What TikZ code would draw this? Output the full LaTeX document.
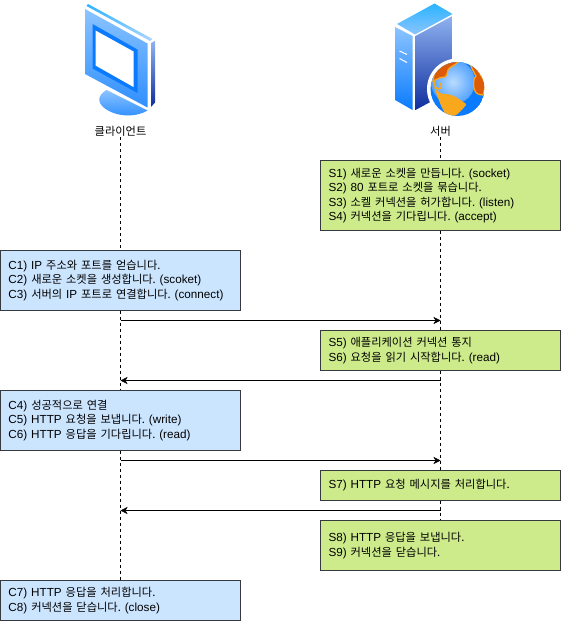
\documentclass[tikz,border=0pt]{standalone}
\usepackage{fontspec}
\setmainfont{Liberation Sans}
\newfontfamily\krfont[Scale=0.96]{Noto Sans CJK KR}
\newcommand{\ko}[1]{{\krfont #1}}
\usetikzlibrary{arrows.meta}
\definecolor{clientfill}{HTML}{CCE5FF}
\definecolor{serverfill}{HTML}{CDEB8B}
\definecolor{boxline}{HTML}{36393D}
\definecolor{iconlight}{HTML}{8CC4FF}
\definecolor{iconblue}{HTML}{0A7BFF}
\definecolor{icondark}{HTML}{0F2E9E}
\definecolor{sideblue}{HTML}{8FB2F0}
\definecolor{topblue}{HTML}{2AB4FF}
\definecolor{landorange}{HTML}{F9A81E}
\definecolor{landdark}{HTML}{DD5B06}
\begin{document}
\begin{tikzpicture}[x=1bp,y=-1bp]
  \tikzstyle{note}=[draw=boxline,rectangle,minimum width=240bp,text width=224bp,inner xsep=8bp,inner ysep=0pt,align=left,font=\fontsize{11.7bp}{14.5bp}\selectfont\frenchspacing]
  \tikzstyle{clientnote}=[note,fill=clientfill]
  \tikzstyle{servernote}=[note,fill=serverfill]
  \tikzstyle{label}=[font=\fontsize{11.7bp}{13bp}\selectfont,inner sep=0pt]
  \tikzstyle{lifeline}=[dash pattern=on 3bp off 3bp,black]
  \tikzstyle{message}=[-{Stealth[length=7bp,width=7bp,inset=2bp]},black]
  \useasboundingbox (0,0) rectangle (561,621);
  % monitor
  \shade[top color=iconlight,bottom color=iconblue!85!white] (85,9) -- (147.5,43.5) -- (147.5,107.5) -- (85,74) -- cycle;
  \fill[iconblue] (92.5,24) -- (137.5,49.5) -- (137.5,93) -- (92.5,68.5) -- cycle;
  \fill[white] (95.5,30.5) -- (133.5,51.5) -- (133.5,87) -- (95.5,65.5) -- cycle;
  \shade[top color=topblue,bottom color=iconlight!70!white] (88,4) -- (152.5,39) -- (150,41) -- (86.5,6) -- cycle;
  \shade[top color=sideblue,bottom color=icondark] (151,43) -- (155,41) -- (155,102.5) -- (151,107) -- cycle;
  \shade[top color=iconlight,bottom color=iconblue!85!white] (106.5,90) -- (147.5,110.5) .. controls (137,117) and (120,117) .. (109,111) .. controls (97,105) and (96,96) .. (106.5,90) -- cycle;
  % server
  \shade[top color=topblue,bottom color=iconlight] (434.5,3.5) -- (452.5,14) -- (415,34.5) -- (397,24) -- cycle;
  \shade[top color=iconlight,bottom color=iconblue] (395,27) -- (412.5,36) -- (412.5,110) -- (395,100) -- cycle;
  \shade[top color=sideblue,bottom color=icondark] (415.5,36) -- (452.5,16) -- (452.5,90) -- (415.5,110) -- cycle;
  \draw[white,line width=1bp] (399.5,51) -- (407,54.5) (399.5,58.5) -- (407,62.5);
  % globe
  \fill[white] (457.5,89) circle (30.5bp);
  \begin{scope}
    \clip (457.5,89) circle (27bp);
    \fill[iconblue] (457.5,89) circle (27bp);
    \shade[inner color=iconlight!60!white,outer color=iconblue!70!white] (453,82) circle (22bp);
    % top left land
    \fill[landdark,draw=landorange,line width=1.2bp] (433,81) .. controls (434,70) and (440,64) .. (447,62) -- (459,58) -- (458,62) .. controls (455,66) and (450,66) .. (448,70) .. controls (447,74) and (446,78) .. (444,77) .. controls (440,77) and (436,80) .. (433,81) -- cycle;
    % isthmus
    \draw[landorange,line width=1.5bp] (434,81) .. controls (434,86) and (436,89) .. (439,89) .. controls (442,88) and (442,85) .. (440,83);
    % lower land
    \fill[landorange] (434,87) .. controls (438,92) and (441,94) .. (444,94) .. controls (450,94) and (455,96) .. (459,99) .. controls (463,102) and (467,104) .. (466,105) .. controls (462,110) and (458,114) .. (456,115) -- (448,118) .. controls (444,112) and (441,106) .. (440,103) .. controls (438,98) and (436,92) .. (434,87) -- cycle;
    % right land
    \fill[landdark,draw=landorange,line width=1.2bp] (470,62) .. controls (474,66) and (478,70) .. (480,74) -- (486,84) -- (483,95) .. controls (478,95) and (475,93) .. (474,88) .. controls (473,82) and (474,78) .. (476,76) .. controls (474,72) and (471,68) .. (470,62) -- cycle;
  \end{scope}
  % lifelines and notes
  \node[label] (clientlabel) at (120.5,131.5) {\ko{클라이언트}};
  \node[label] (serverlabel) at (440.5,131.5) {\ko{서버}};
  \node[clientnote,minimum height=60bp] (c1) at (120.5,280.5) {C1) IP \ko{주소와 포트를 얻습니다.}\\C2) \ko{새로운 소켓을 생성합니다.} (scoket)\\C3) \ko{서버의} IP \ko{포트로 연결합니다.} (connect)};
  \node[clientnote,minimum height=60bp] (c4) at (120.5,420.5) {C4) \ko{성공적으로 연결}\\C5) HTTP \ko{요청을 보냅니다.} (write)\\C6) HTTP \ko{응답을 기다립니다.} (read)};
  \node[clientnote,minimum height=40bp] (c7) at (120.5,600.5) {C7) HTTP \ko{응답을 처리합니다.}\\C8) \ko{커넥션을 닫습니다.} (close)};
  \node[servernote,minimum height=70bp] (s1) at (440.5,195.5) {S1) \ko{새로운 소켓을 만듭니다.} (socket)\\S2) 80 \ko{포트로 소켓을 묶습니다.}\\S3) \ko{소켈 커넥션을 허가합니다.} (listen)\\S4) \ko{커넥션을 기다립니다.} (accept)};
  \node[servernote,minimum height=40bp] (s5) at (440.5,350.5) {S5) \ko{애플리케이션 커넥션 통지}\\S6) \ko{요청을 읽기 시작합니다.} (read)};
  \node[servernote,minimum height=30bp] (s7) at (440.5,485.5) {S7) HTTP \ko{요청 메시지를 처리합니다.}};
  \node[servernote,minimum height=50bp] (s8) at (440.5,545.5) {S8) HTTP \ko{응답을 보냅니다.}\\S9) \ko{커넥션을 닫습니다.}};
  \coordinate (ca) at (120.5,320.5);
  \coordinate (sa) at (440.5,320.5);
  \coordinate (cb) at (120.5,380.5);
  \coordinate (sb) at (440.5,380.5);
  \coordinate (cc) at (120.5,460.5);
  \coordinate (sc) at (440.5,460.5);
  \coordinate (cd) at (120.5,510.5);
  \coordinate (sd) at (440.5,510.5);
  % visible parts of the lifelines
  \draw[lifeline] (clientlabel.south) -- (c1.north);
  \draw[lifeline] (c1.south) -- (c4.north);
  \draw[lifeline] (c4.south) -- (c7.north);
  \draw[lifeline] (serverlabel.south) -- (s1.north);
  \draw[lifeline] (s1.south) -- (s5.north);
  \draw[lifeline] (s5.south) -- (s7.north);
  \draw[lifeline] (s7.south) -- (s8.north);
  \draw[message] (ca) -- (sa);
  \draw[message] (sb) -- (cb);
  \draw[message] (cc) -- (sc);
  \draw[message] (sd) -- (cd);
\end{tikzpicture}
\end{document}
